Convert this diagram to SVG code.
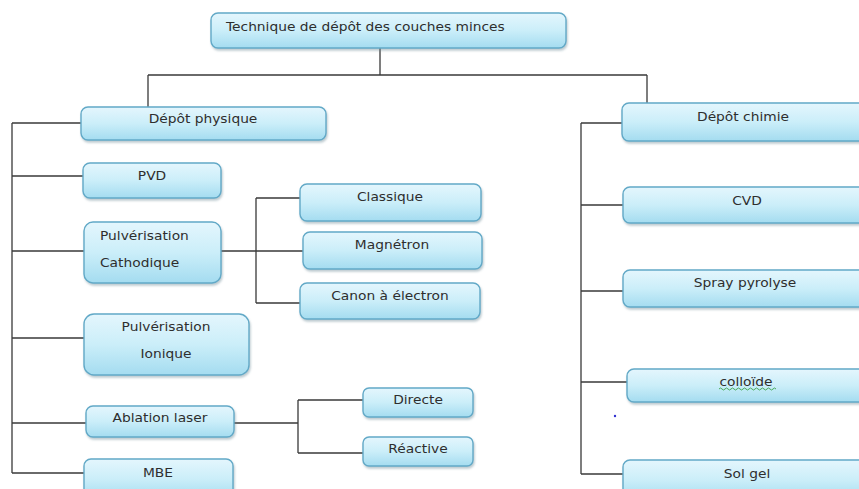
<svg xmlns="http://www.w3.org/2000/svg" width="859" height="489" viewBox="0 0 859 489">
  <defs>
    <linearGradient id="boxFill" x1="0" y1="0" x2="0" y2="1">
      <stop offset="0" stop-color="#e4f6fd"/>
      <stop offset="0.5" stop-color="#cbeef9"/>
      <stop offset="1" stop-color="#a4dcf0"/>
    </linearGradient>
    <filter id="shadow" x="-10%" y="-20%" width="130%" height="150%">
      <feDropShadow dx="1" dy="2" stdDeviation="1.2" flood-color="#6a8a96" flood-opacity="0.45"/>
    </filter>
  </defs>
  <style>
    .box { fill: url(#boxFill); stroke: #62a9c7; stroke-width: 1.4; filter: url(#shadow); }
    .lbl { font-family: "DejaVu Sans", "Open Sans", sans-serif; font-size: 11.5px; fill: #2e2e2e; }
    .mid { text-anchor: middle; }
    .conn { fill: none; stroke: #3a3a3a; stroke-width: 1.3; }
  </style>
  <rect width="859" height="489" fill="#fff"/>

  <g id="connectors">
    <!-- root to the two main branches -->
    <path class="conn" d="M380 48 V75 M148 75 H647 M148 75 V107 M647 75 V104"/>
    <!-- physical deposition trunk -->
    <path class="conn" d="M12 123 V473 M12 123 H82 M12 176 H83 M12 251 H84 M12 338 H84 M12 423 H86 M12 473 H84"/>
    <!-- sputtering sub-branches -->
    <path class="conn" d="M221 251 H303 M256 198 V303 M256 198 H300 M256 303 H300"/>
    <!-- laser ablation sub-branches -->
    <path class="conn" d="M234 423 H298 M298 400 V453 M298 400 H363 M298 453 H363"/>
    <!-- chemical deposition trunk -->
    <path class="conn" d="M581 123 V474 M581 123 H622 M581 205 H623 M581 291 H623 M581 382 H627 M581 474 H623"/>
  </g>

  <!-- labels are drawn slightly widened: scale(1.2 1) -->
  <g id="root">
    <rect class="box" x="211" y="13" width="355" height="35" rx="7"/>
    <text class="lbl" transform="translate(226 31) scale(1.2 1)">Technique de dépôt des couches minces</text>
  </g>

  <g id="depot-physique">
    <rect class="box" x="81" y="107" width="245" height="33" rx="7"/>
    <text class="lbl mid" transform="translate(203 123) scale(1.2 1)">Dépôt physique</text>
  </g>
  <g id="pvd">
    <rect class="box" x="83" y="163" width="138" height="35" rx="7"/>
    <text class="lbl mid" transform="translate(152 180) scale(1.2 1)">PVD</text>
  </g>
  <g id="pulverisation-cathodique">
    <rect class="box" x="84" y="222" width="137" height="61" rx="9"/>
    <text class="lbl" transform="translate(100 240) scale(1.2 1)">Pulvérisation</text>
    <text class="lbl" transform="translate(100 267) scale(1.2 1)">Cathodique</text>
  </g>
  <g id="classique">
    <rect class="box" x="300" y="184" width="181" height="37" rx="7"/>
    <text class="lbl mid" transform="translate(390 201) scale(1.2 1)">Classique</text>
  </g>
  <g id="magnetron">
    <rect class="box" x="303" y="232" width="179" height="37" rx="7"/>
    <text class="lbl mid" transform="translate(392 249) scale(1.2 1)">Magnétron</text>
  </g>
  <g id="canon-electron">
    <rect class="box" x="300" y="283" width="180" height="36" rx="7"/>
    <text class="lbl mid" transform="translate(390 300) scale(1.2 1)">Canon à électron</text>
  </g>
  <g id="pulverisation-ionique">
    <rect class="box" x="84" y="314" width="165" height="61" rx="10"/>
    <text class="lbl mid" transform="translate(166 331) scale(1.2 1)">Pulvérisation</text>
    <text class="lbl mid" transform="translate(166 358) scale(1.2 1)">Ionique</text>
  </g>
  <g id="ablation-laser">
    <rect class="box" x="86" y="406" width="148" height="31" rx="7"/>
    <text class="lbl mid" transform="translate(160 422) scale(1.2 1)">Ablation laser</text>
  </g>
  <g id="directe">
    <rect class="box" x="363" y="388" width="110" height="29" rx="6"/>
    <text class="lbl mid" transform="translate(418 404) scale(1.2 1)">Directe</text>
  </g>
  <g id="reactive">
    <rect class="box" x="363" y="437" width="110" height="29" rx="6"/>
    <text class="lbl mid" transform="translate(418 453) scale(1.2 1)">Réactive</text>
  </g>
  <g id="mbe">
    <rect class="box" x="84" y="459" width="149" height="40" rx="7"/>
    <text class="lbl mid" transform="translate(158 477) scale(1.2 1)">MBE</text>
  </g>

  <g id="depot-chimie">
    <rect class="box" x="622" y="103" width="250" height="38" rx="7"/>
    <text class="lbl mid" transform="translate(743 121) scale(1.2 1)">Dépôt chimie</text>
  </g>
  <g id="cvd">
    <rect class="box" x="623" y="187" width="250" height="36" rx="7"/>
    <text class="lbl mid" transform="translate(747 205) scale(1.2 1)">CVD</text>
  </g>
  <g id="spray-pyrolyse">
    <rect class="box" x="623" y="270" width="250" height="37" rx="7"/>
    <text class="lbl mid" transform="translate(745 287) scale(1.2 1)">Spray pyrolyse</text>
  </g>
  <g id="colloide">
    <rect class="box" x="627" y="369" width="250" height="33" rx="7"/>
    <text class="lbl mid" transform="translate(746 386) scale(1.2 1)">colloïde</text>
    <path d="M719 389 q1.5 -2 3 0 t3 0 t3 0 t3 0 t3 0 t3 0 t3 0 t3 0 t3 0 t3 0 t3 0 t3 0 t3 0 t3 0 t3 0 t3 0 t3 0 t3 0 t3 0" fill="none" stroke="#3aa34a" stroke-width="0.9"/>
  </g>
  <circle cx="615" cy="416" r="1.2" fill="#3030d0"/>
  <g id="sol-gel">
    <rect class="box" x="623" y="460" width="250" height="40" rx="7"/>
    <text class="lbl mid" transform="translate(747 478) scale(1.2 1)">Sol gel</text>
  </g>
</svg>
